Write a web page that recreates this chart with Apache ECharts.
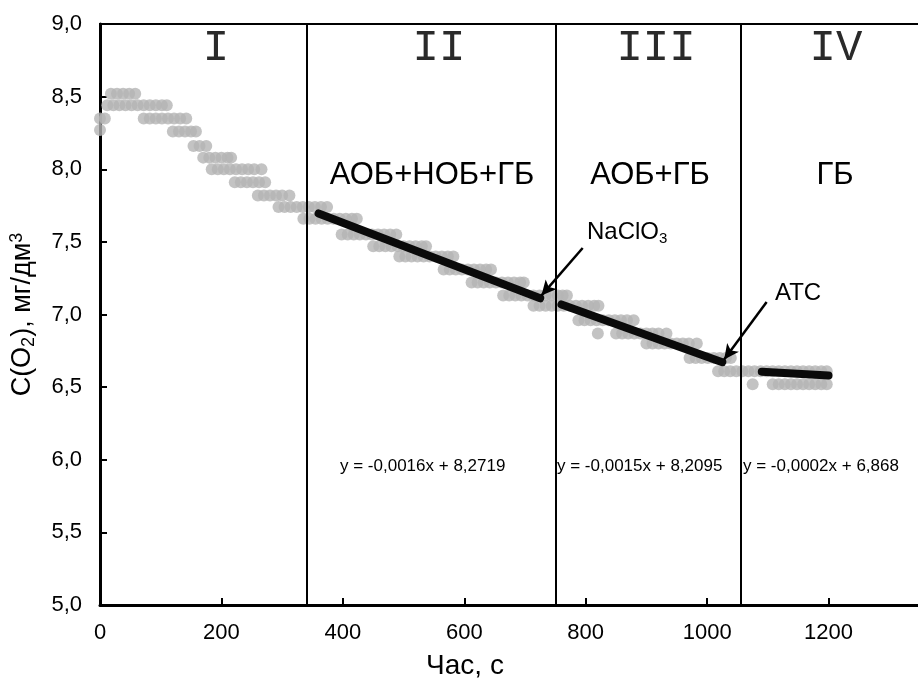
<!DOCTYPE html>
<html>
<head>
<meta charset="utf-8">
<script src="https://cdn.jsdelivr.net/npm/echarts@6/dist/echarts.min.js"></script>
<style>
  html, body { margin: 0; padding: 0; background: #fff; }
  #chart { width: 918px; height: 693px; }
</style>
</head>
<body>
<div id="chart"></div>
<script>
// Dissolved oxygen readings, grouped by measured level:
// [C(O2) in mg/dm3, time s, time s, ...]
const o2Readings = [
  [8.27, 0],
  [8.35, 0, 8, 72, 82, 92, 102, 112, 122, 132, 142],
  [8.44, 12, 22, 32, 42, 52, 62, 72, 82, 92, 102, 110],
  [8.52, 18, 28, 38, 48, 58],
  [8.26, 120, 130, 140, 150, 158],
  [8.16, 154, 164, 175],
  [8.08, 170, 180, 190, 200, 210, 216],
  [8.00, 184, 194, 204, 214, 224, 234, 244, 254, 266],
  [7.91, 222, 232, 242, 252, 262, 272],
  [7.82, 260, 270, 280, 290, 300, 312],
  [7.74, 294, 304, 314, 324, 334, 344, 354, 364, 374],
  [7.66, 335, 345, 355, 365, 375, 385, 395, 405, 415, 423],
  [7.55, 398, 408, 418, 428, 438, 448, 458, 468, 478, 488],
  [7.47, 450, 460, 470, 480, 490, 500, 510, 520, 530, 537],
  [7.40, 493, 503, 513, 523, 533, 543, 553, 563, 573, 582],
  [7.31, 566, 576, 586, 596, 606, 616, 626, 636, 644],
  [7.22, 612, 622, 632, 642, 652, 662, 672, 682, 692, 698],
  [7.13, 664, 674, 684, 694, 704, 714, 724, 734, 744, 754, 762, 769],
  [7.06, 714, 724, 734, 744, 754, 764, 774, 784, 794, 804, 814, 821],
  [6.96, 788, 798, 808, 818, 828, 838, 848, 858, 868, 879],
  [6.87, 820, 850, 860, 870, 880, 890, 900, 910, 920, 933],
  [6.80, 900, 910, 920, 930, 940, 950, 960, 970, 983],
  [6.70, 971, 981, 991, 1001, 1011, 1021, 1031, 1039],
  [6.61, 1018, 1028, 1038, 1048, 1058, 1068, 1078, 1088, 1098, 1108, 1118, 1128, 1138, 1148, 1158, 1168, 1178, 1188, 1197],
  [6.52, 1075, 1108, 1118, 1128, 1138, 1148, 1158, 1168, 1178, 1188, 1197]
];

// Linear fits per stage: y = slope * x + intercept, over [fitFrom, fitTo]
const fitSlopes = [-0.0016, -0.0015, -0.00024];
const fitIntercepts = [8.2719, 8.2095, 6.868];
const fitFrom = [360, 760, 1090];
const fitTo = [725, 1025, 1200];
const fitEquations = ['y = -0,0016x + 8,2719', 'y = -0,0015x + 8,2095', 'y = -0,0002x + 6,868'];

// Stage boundaries (s) and stage names
const stageBounds = [340, 750, 1055];
const stageNumerals = ['I', 'II', 'III', 'IV'];
const stageGroups = ['', 'АОБ+НОБ+ГБ', 'АОБ+ГБ', 'ГБ'];

// Axis ticks
const xTicks = { min: 0, max: 1400, step: 200 };
const yTicks = { min: 5, max: 9, step: 0.5 };

// Reagent additions: arrow tail and head in data coordinates
const additionFrom = [[795, 7.458], [1098, 7.086]];
const additionTo = [[727, 7.13], [1028, 6.69]];

const scatterData = [];
o2Readings.forEach(row => {
  const level = row[0];
  row.slice(1).forEach(t => scatterData.push([t, level]));
});

const fitSeries = fitSlopes.map((k, i) => ({
  type: 'line',
  symbol: 'none',
  silent: true,
  z: 4,
  lineStyle: { color: '#0a0a0a', width: 8, cap: 'round' },
  data: [
    [fitFrom[i], k * fitFrom[i] + fitIntercepts[i]],
    [fitTo[i], k * fitTo[i] + fitIntercepts[i]]
  ]
}));

const FONT = '"Liberation Sans", Arial, sans-serif';
const chart = echarts.init(document.getElementById('chart'), null, { renderer: 'canvas' });

chart.setOption({
  animation: false,
  backgroundColor: '#fff',
  grid: {
    // the plot runs on past the right edge of the page
    left: 100, top: 24, width: 850, height: 581,
    outerBoundsMode: 'none',
    containLabel: false,
    show: true, borderColor: '#000', borderWidth: 2
  },
  xAxis: {
    type: 'value',
    min: xTicks.min, max: xTicks.max, interval: xTicks.step,
    axisLine: { lineStyle: { color: '#000', width: 3 } },
    axisTick: { inside: true, length: 7, lineStyle: { color: '#000', width: 2 } },
    axisLabel: { color: '#000', fontSize: 22, fontFamily: FONT, margin: 17, formatter: v => String(v) },
    splitLine: { show: false }
  },
  yAxis: {
    type: 'value',
    min: yTicks.min, max: yTicks.max, interval: yTicks.step,
    axisLine: { show: true, lineStyle: { color: '#000', width: 3 } },
    axisTick: { show: true, inside: true, length: 7, lineStyle: { color: '#000', width: 2 } },
    axisLabel: {
      color: '#000', fontSize: 22, fontFamily: FONT, margin: 18,
      formatter: v => v.toFixed(1).replace('.', ',')
    },
    splitLine: { show: false },
    name: '{a|C(O}{sub|2}{a|), мг/дм}{sup|3}',
    nameLocation: 'middle',
    nameRotate: 90,
    nameGap: 62,
    nameTextStyle: {
      rich: {
        a: { fontSize: 27, fontFamily: FONT, color: '#000', lineHeight: 30, verticalAlign: 'middle' },
        sub: { fontSize: 18, fontFamily: FONT, color: '#000', lineHeight: 16, verticalAlign: 'bottom' },
        sup: { fontSize: 18, fontFamily: FONT, color: '#000', lineHeight: 16, verticalAlign: 'top' }
      }
    }
  },
  series: [
    {
      type: 'scatter',
      symbol: 'circle',
      symbolSize: 12,
      silent: true,
      z: 2,
      itemStyle: { color: '#b4b4b4' },
      data: scatterData
    },
    ...fitSeries,
    {
      type: 'line',
      data: [],
      silent: true,
      z: 5,
      markLine: {
        silent: true,
        symbol: 'none',
        animation: false,
        label: { show: false },
        lineStyle: { color: '#000', width: 2, type: 'solid' },
        data: stageBounds.map(b => ({ xAxis: b }))
      }
    },
    {
      type: 'line',
      data: [],
      silent: true,
      z: 6,
      markLine: {
        silent: true,
        symbol: ['none', 'arrow'],
        symbolSize: [11, 15],
        animation: false,
        label: { show: false },
        lineStyle: { color: '#000', width: 2.5, type: 'solid' },
        data: additionFrom.map((f, i) => [{ coord: f }, { coord: additionTo[i] }])
      }
    }
  ],
  graphic: [
    // stage numerals
    ...stageNumerals.map((s, i) => ({
      type: 'text',
      x: [216, 439, 656, 836][i], y: 48,
      style: {
        text: s, fill: '#2a2a2a', font: '44px "Liberation Mono", "Courier New", monospace',
        textAlign: 'center', textVerticalAlign: 'middle'
      }
    })),
    // active groups per stage
    ...stageGroups.map((s, i) => ({
      type: 'text',
      x: [216, 432, 650, 835][i], y: 175,
      style: {
        text: s, fill: '#000', font: '31px ' + FONT,
        textAlign: 'center', textVerticalAlign: 'middle'
      }
    })),
    // fit equations
    ...fitEquations.map((s, i) => ({
      type: 'text',
      x: [340, 557, 743][i], y: 466,
      style: {
        text: s, fill: '#000', font: '17px ' + FONT,
        textAlign: 'left', textVerticalAlign: 'middle'
      }
    })),
    {
      type: 'text', x: 587, y: 232,
      style: {
        text: '{a|NaClO}{s|3}', textAlign: 'left', textVerticalAlign: 'middle',
        rich: {
          a: { fontSize: 24, fontFamily: FONT, fill: '#000', lineHeight: 28, verticalAlign: 'middle' },
          s: { fontSize: 15, fontFamily: FONT, fill: '#000', lineHeight: 14, verticalAlign: 'bottom' }
        }
      }
    },
    {
      type: 'text', x: 775, y: 293,
      style: {
        text: 'АТС', fill: '#000', font: '24px ' + FONT,
        textAlign: 'left', textVerticalAlign: 'middle'
      }
    },
    {
      type: 'text', x: 465, y: 666,
      style: {
        text: 'Час, с', fill: '#000', font: '28px ' + FONT,
        textAlign: 'center', textVerticalAlign: 'middle'
      }
    }
  ]
});
</script>
</body>
</html>
